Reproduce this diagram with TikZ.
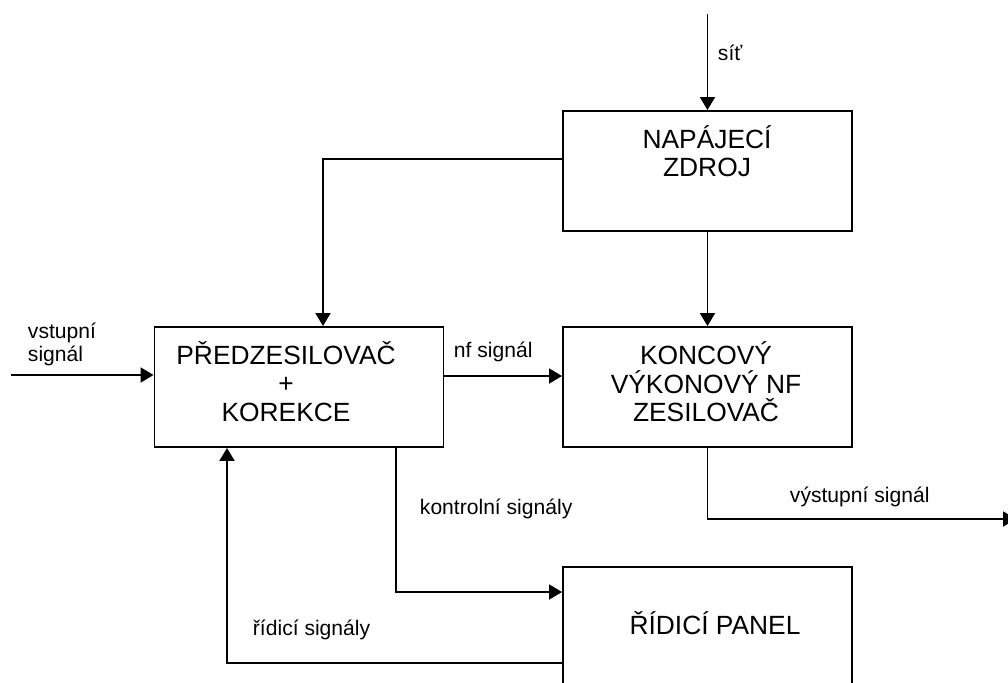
\documentclass[tikz,border=0pt]{standalone}
\usepackage{fontspec}
\setmainfont{Liberation Sans}
\usetikzlibrary{arrows.meta}

\begin{document}
\begin{tikzpicture}[line width=1.1pt,
  blok/.style={draw, minimum width=5.78cm, minimum height=2.4cm, inner sep=0pt},
  napis/.style={align=center, inner sep=0pt, font=\fontsize{15}{16.2}\selectfont},
  popis/.style={inner sep=0pt, font=\fontsize{12}{13}\selectfont},
  spoj/.style={-{Triangle[length=0.26cm, width=0.3cm]}}]
  \useasboundingbox (0,0) rectangle (20.16,13.64);
  \clip (0,0) rectangle (20.16,13.64);

  % bloky
  \node[blok] (zdroj) at (14.15,10.22) {};
  \node[blok] (pred) at (5.98,5.90) {};
  \node[blok] (konc) at (14.15,5.90) {};
  \node[blok] (panel) at (14.15,1.10) {};

  \node[napis] (zdrojText) at (14.14,10.62) {NAPÁJECÍ\\ZDROJ};
  \node[napis] (predText) at (5.72,6.01) {PŘEDZESILOVAČ\\+\\KOREKCE};
  \node[napis] (koncText) at (14.12,6.00) {KONCOVÝ\\VÝKONOVÝ NF\\ZESILOVAČ};
  \node[napis] (panelText) at (14.30,1.17) {ŘÍDICÍ PANEL};

  % volne konce
  \coordinate (sit) at (14.15,13.36);
  \coordinate (vstup) at (0.22,6.14);
  \coordinate (vystup) at (20.32,3.26);

  % spoje
  \draw[spoj] (sit) -- (zdroj.north);
  \draw[spoj] ([yshift=0.24cm]zdroj.west) -| ([xshift=0.48cm]pred.north);
  \draw[spoj] (zdroj.south) -- (konc.north);
  \draw[spoj] (vstup) -- (vstup -| pred.west);
  \draw[spoj] ([yshift=0.22cm]pred.east) -- ([yshift=0.22cm]konc.west);
  \draw[spoj] (konc.south) |- (vystup);
  \draw[spoj] ([xshift=1.94cm]pred.south) |- ([yshift=0.70cm]panel.west);
  \draw[spoj] ([yshift=-0.72cm]panel.west) -| ([xshift=-1.44cm]pred.south);

  % popisky
  \node[popis, anchor=base west] (sitText) at (14.34,12.44) {síť};
  \node[popis, align=left, anchor=west] (vstupText) at (0.54,6.75) {vstupní\\signál};
  \node[popis, anchor=base west] (nfText) at (9.06,6.50) {nf signál};
  \node[popis, anchor=base west] (vystupText) at (15.78,3.60) {výstupní signál};
  \node[popis, anchor=base west] (kontrolText) at (8.38,3.36) {kontrolní signály};
  \node[popis, anchor=base west] (ridText) at (5.04,0.94) {řídicí signály};
\end{tikzpicture}
\end{document}
